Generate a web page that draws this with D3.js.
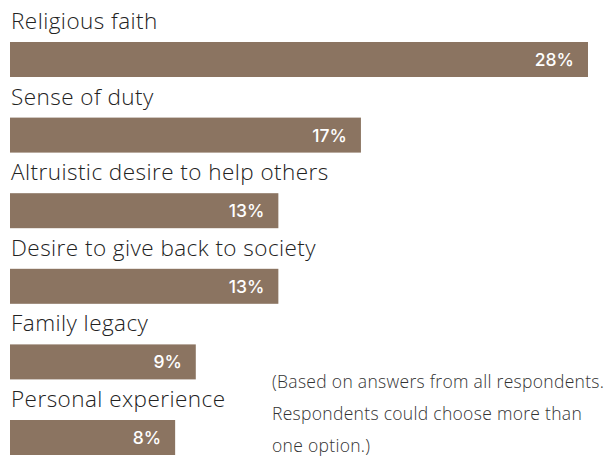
<!DOCTYPE html>
<html>
<head>
<meta charset="utf-8">
<script src="https://cdn.jsdelivr.net/npm/d3@7"></script>
<style>
  html, body { margin: 0; padding: 0; background: #ffffff; }
  svg { display: block; }
</style>
</head>
<body>
<svg id="chart" width="609" height="458"></svg>
<script>
// Motivations, share of respondents (%)
const categories = [
  "Religious faith",
  "Sense of duty",
  "Altruistic desire to help others",
  "Desire to give back to society",
  "Family legacy",
  "Personal experience"
];
const values = [28, 17, 13, 13, 9, 8];
const valueLabels = ["28%", "17%", "13%", "13%", "9%", "8%"];
const noteLines = [
  "(Based on answers from all respondents.",
  "Respondents could choose more than",
  "one option.)"
];

const svg = d3.select("#chart");
const barColor = "#8b7461";
const fontFamily = "'Open Sans', 'Noto Sans', sans-serif";

// Horizontal scale: percentage → pixel x
const x = d3.scaleLinear().domain([0, 28]).range([10, 588]);

// Each row holds a label line above its bar
const rowStep = 75.6;
const barH = 35;
const top0 = 42;
const y = d3.scaleBand()
  .domain(categories)
  .range([top0, top0 + rowStep * (categories.length - 1) + barH])
  .paddingInner(1 - barH / rowStep)
  .paddingOuter(0)
  .align(0);

const data = categories.map((c, i) => ({ cat: c, value: values[i], label: valueLabels[i] }));

const rows = svg.selectAll("g.row")
  .data(data)
  .join("g")
  .attr("class", "row");

rows.append("rect")
  .attr("x", x(0))
  .attr("y", d => y(d.cat))
  .attr("width", d => x(d.value) - x(0))
  .attr("height", y.bandwidth())
  .attr("fill", barColor);

rows.append("text")
  .attr("x", x(0) + 1)
  .attr("y", d => y(d.cat) - 13)
  .attr("font-family", fontFamily)
  .attr("font-size", 22.5)
  .attr("font-weight", 300)
  .attr("letter-spacing", 0.45)
  .attr("fill", "#222")
  .text(d => d.cat);

rows.append("text")
  .attr("x", d => x(d.value) - 14)
  .attr("y", d => y(d.cat) + y.bandwidth() / 2 + 6.5)
  .attr("text-anchor", "end")
  .attr("font-family", "Inter, 'Open Sans', sans-serif")
  .attr("font-size", 17.5)
  .attr("font-weight", 500)
  .attr("fill", "#ffffff")
  .text(d => d.label);

// Footnote
svg.append("g")
  .selectAll("text")
  .data(noteLines)
  .join("text")
  .attr("x", 272)
  .attr("y", (d, i) => 388 + i * 32)
  .attr("font-family", fontFamily)
  .attr("font-size", 17.5)
  .attr("font-weight", 300)
  .attr("letter-spacing", 0.3)
  .attr("fill", "#333")
  .text(d => d);
</script>
</body>
</html>
